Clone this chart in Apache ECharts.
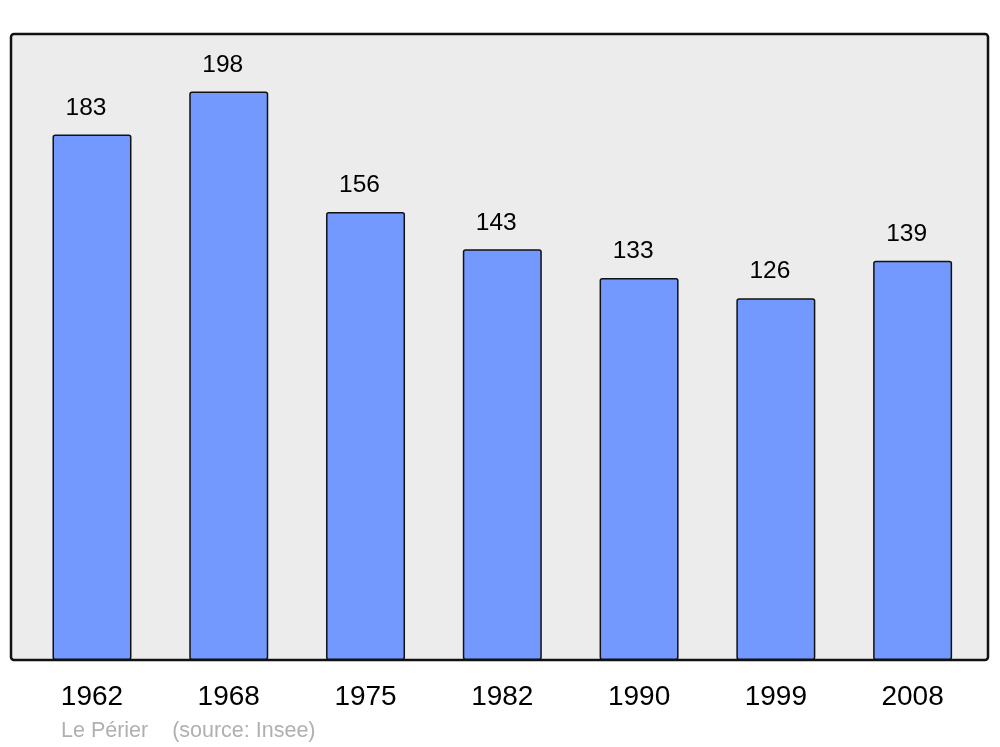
<!DOCTYPE html>
<html>
<head>
<meta charset="utf-8">
<script src="https://cdn.jsdelivr.net/npm/echarts@6/dist/echarts.min.js"></script>
<style>
  html, body { margin: 0; padding: 0; background: #fff; }
  #chart { width: 1000px; height: 747px; }
</style>
</head>
<body>
<div id="chart"></div>
<script>
  // population par recensement
  var years = ['1962', '1968', '1975', '1982', '1990', '1999', '2008'];
  var population = [183, 198, 156, 143, 133, 126, 139];

  var myChart = echarts.init(document.getElementById('chart'));
  myChart.setOption({
    backgroundColor: '#fff',
    animation: false,
    textStyle: { fontFamily: 'Liberation Sans, Arial, sans-serif' },
    graphic: [
      {
        type: 'rect',
        z: -10,
        shape: { x: 11, y: 34, width: 977, height: 626, r: 3 },
        style: { fill: '#ececec', stroke: '#111', lineWidth: 2.5 }
      },
      {
        type: 'text',
        left: 61,
        top: 720,
        style: {
          text: 'Le Périer    (source: Insee)',
          fill: '#b0b0b0',
          fontSize: 21.5,
          fontFamily: 'Liberation Sans, Arial, sans-serif'
        }
      }
    ],
    grid: {
      left: 23.6,
      right: 19,
      top: 34,
      bottom: 87
    },
    xAxis: {
      type: 'category',
      data: years,
      axisLine: { show: false },
      axisTick: { show: false },
      axisLabel: {
        color: '#000',
        fontSize: 28,
        margin: 23
      }
    },
    yAxis: {
      type: 'value',
      min: 0,
      max: 218,
      show: false,
      splitLine: { show: false }
    },
    series: [
      {
        type: 'bar',
        data: population,
        barWidth: 79,
        itemStyle: {
          color: '#7399ff',
          borderColor: '#111',
          borderWidth: 1.5,
          borderRadius: 2
        },
        label: {
          show: true,
          position: 'top',
          distance: 14,
          offset: [-6, 0],
          color: '#000',
          fontSize: 24.5
        }
      }
    ]
  });
</script>
</body>
</html>
